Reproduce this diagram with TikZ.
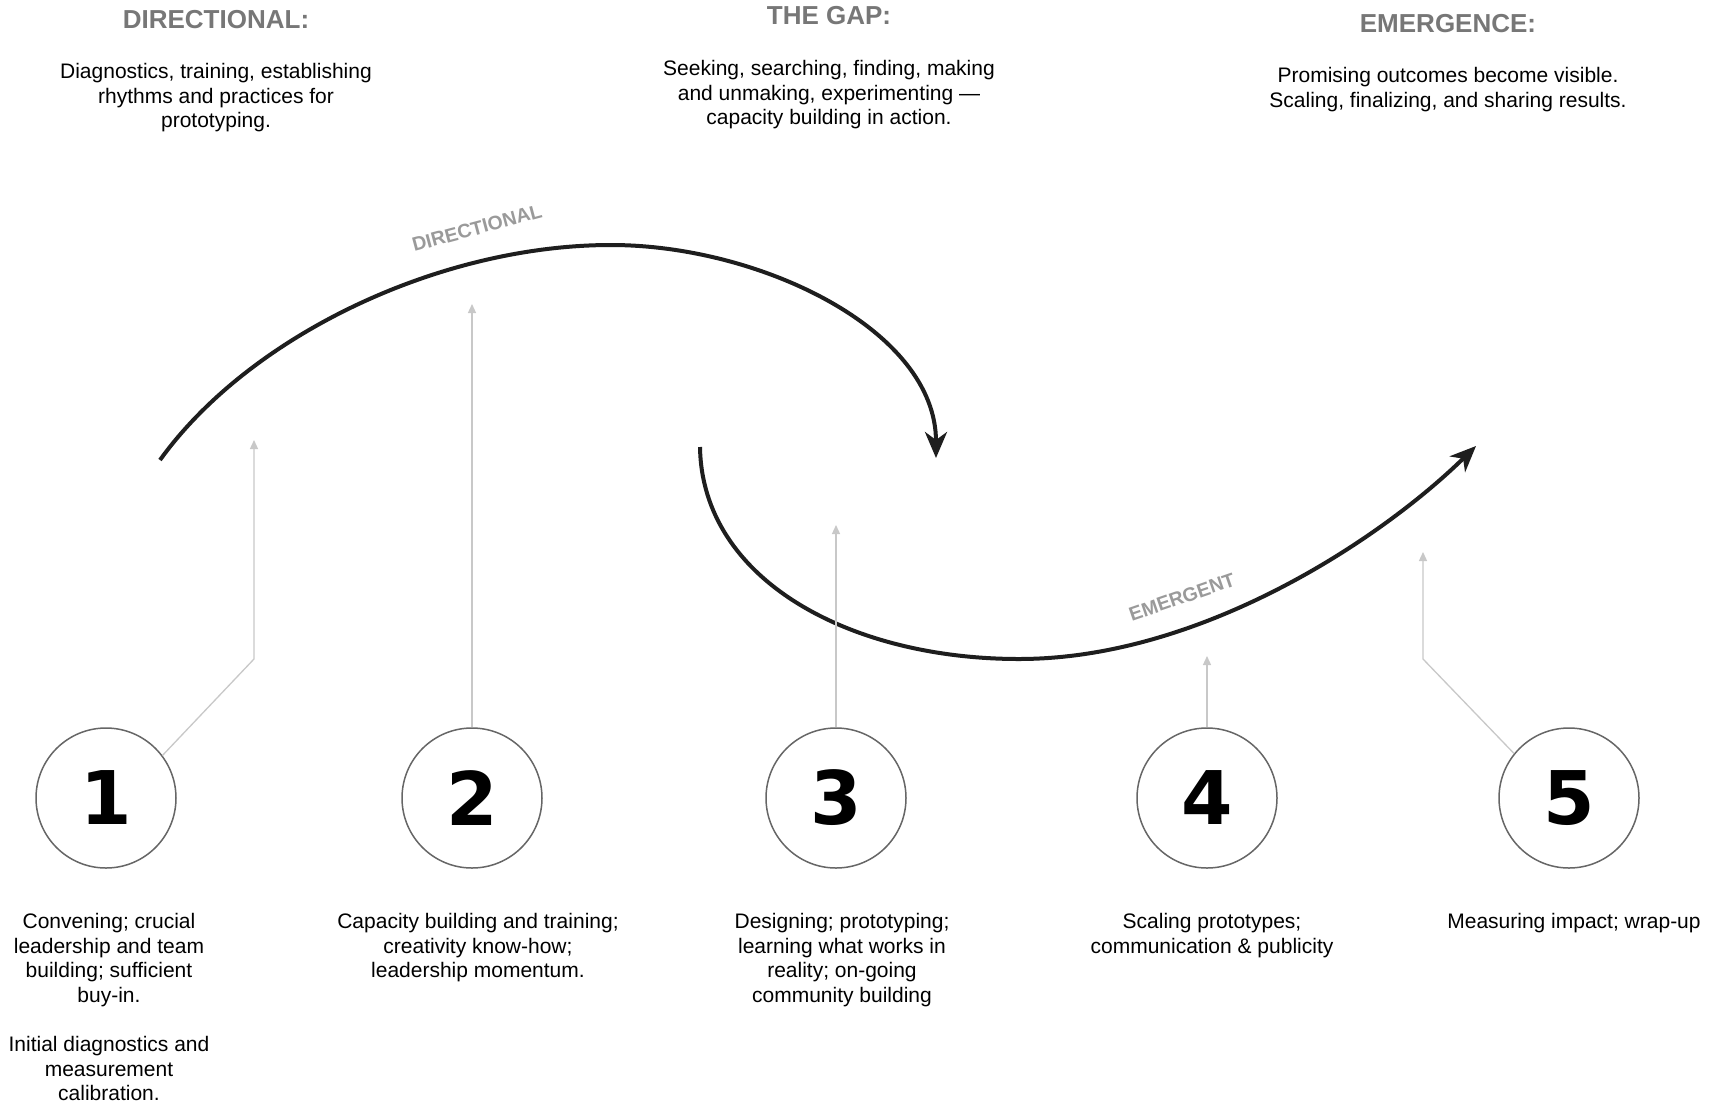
\documentclass[tikz,border=0pt]{standalone}
\usepackage{fontspec}
\setmainfont{Liberation Sans}
\newfontfamily\numfont{DejaVu Sans}
\usetikzlibrary{arrows.meta}
\definecolor{headgray}{HTML}{777777}
\definecolor{labelgray}{HTML}{9A9A9A}
\definecolor{linegray}{HTML}{C8C8C8}
\definecolor{circgray}{HTML}{666666}
\definecolor{arcblack}{HTML}{1E1E1E}
\begin{document}
\begin{tikzpicture}[x=1pt,y=-1pt,
  body/.style={font=\fontsize{21}{24.6}\selectfont, align=center, inner sep=0pt, anchor=north, text=black},
  head/.style={font=\bfseries\fontsize{26}{30}\selectfont, text=headgray, inner sep=0pt},
  numcircle/.style={circle, draw=circgray, line width=1.5pt, minimum size=140pt, inner sep=0pt, fill=white, font=\numfont\bfseries\fontsize{74}{74}\selectfont},
  bigarc/.style={line width=4pt, draw=arcblack, -{Stealth[length=26pt,width=22pt,inset=8pt]}},
  feeder/.style={draw=linegray, line width=1.3pt, -{Triangle[length=9pt,width=8pt]}},
  arclabel/.style={text=labelgray, font=\bfseries\fontsize{19.5}{20}\selectfont, inner sep=0pt},
]
\path[use as bounding box, fill=white] (0,0) rectangle (1714,1104);

% headings
\node[head] (h1) at (216,20) {DIRECTIONAL:};
\node[head] (h2) at (829,16) {THE GAP:};
\node[head] (h3) at (1448,24) {EMERGENCE:};
\node[body] (d1) at (216,63) {Diagnostics, training, establishing\\rhythms and practices for\\prototyping.};
\node[body] (d2) at (829,60) {Seeking, searching, finding, making\\and unmaking, experimenting ---\\capacity building in action.};
\node[body] (d3) at (1448,67) {Promising outcomes become visible.\\Scaling, finalizing, and sharing results.};

% main arcs
\coordinate (a1s) at (160,460);
\coordinate (a1m) at (611,245);
\coordinate (a1e) at (936,458);
\coordinate (a2s) at (700,447);
\coordinate (a2m) at (1019,659);
\coordinate (a2e) at (1476,446);
\draw[bigarc] (a1s) .. controls (250,335) and (440,245) .. (a1m)
                    .. controls (760,245) and (936,330) .. (a1e);
\draw[bigarc] (a2s) .. controls (702,580) and (850,659) .. (a2m)
                    .. controls (1200,659) and (1380,540) .. (a2e);
\node[arclabel, rotate=15] (l1) at (477,228) {DIRECTIONAL};
\node[arclabel, rotate=19] (l2) at (1182,597) {EMERGENT};

% circles
\node[numcircle] (c1) at (106,798) {1};
\node[numcircle] (c2) at (472,798) {2};
\node[numcircle] (c3) at (836,798) {3};
\node[numcircle] (c4) at (1207,798) {4};
\node[numcircle] (c5) at (1569,798) {5};

% feeder lines
\coordinate (b1) at (254,659);
\coordinate (t1) at (254,440);
\coordinate (t2) at (472,304);
\coordinate (t3) at (836,525);
\coordinate (t4) at (1207,656);
\coordinate (b5) at (1423,659);
\coordinate (t5) at (1423,552);
\draw[feeder] (c1.37) -- (b1) -- (t1);
\draw[feeder] (c2.north) -- (t2);
\draw[feeder] (c3.north) -- (t3);
\draw[feeder] (c4.north) -- (t4);
\draw[feeder] (c5.141) -- (b5) -- (t5);

% bottom texts
\node[body] (p1) at (109,913) {Convening; crucial\\leadership and team\\building; sufficient\\buy-in.\\[24.6pt]Initial diagnostics and\\measurement\\calibration.};
\node[body] (p2) at (478,913) {Capacity building and training;\\creativity know-how;\\leadership momentum.};
\node[body] (p3) at (842,913) {Designing; prototyping;\\learning what works in\\reality; on-going\\community building};
\node[body] (p4) at (1212,913) {Scaling prototypes;\\communication \& publicity};
\node[body] (p5) at (1574,913) {Measuring impact; wrap-up};
\end{tikzpicture}
\end{document}
